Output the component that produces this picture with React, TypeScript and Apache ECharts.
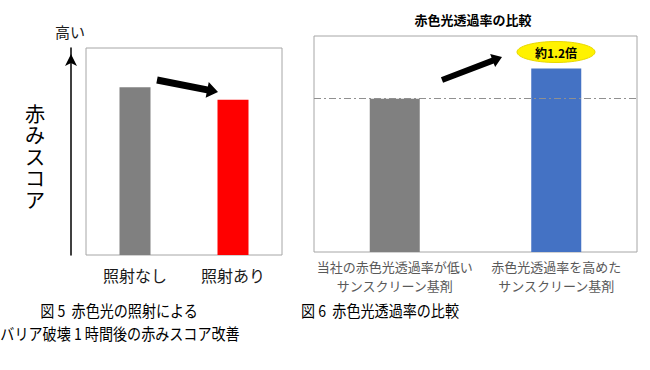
import React, { useEffect, useRef } from "react";
import * as echarts from "echarts";

const fig5Categories = ["照射なし", "照射あり"];
const fig5Values = [81, 75];
const fig5Colors = ["#808080", "#FF0000"];

const fig6Title = "赤色光透過率の比較";
const fig6Categories = ["当社の赤色光透過率が低い\nサンスクリーン基剤", "赤色光透過率を高めた\nサンスクリーン基剤"];
const fig6Values = [71, 85];
const fig6Colors = ["#808080", "#4472C4"];
const fig6Badge = "約1.2倍";

const yAxisName = "高い";
const yAxisTitle = "赤みスコア";
const caption5a = "図 5  赤色光の照射による";
const caption5b = "バリア破壊 1 時間後の赤みスコア改善";
const caption6 = "図 6  赤色光透過率の比較";

const FONT = '"Noto Sans CJK JP", "Noto Sans", sans-serif';

function arrowPoints(x1: number, y1: number, x2: number, y2: number, shaft: number, headW: number, headL: number) {
  const dx = x2 - x1, dy = y2 - y1;
  const len = Math.hypot(dx, dy);
  const ux = dx / len, uy = dy / len;
  const nx = -uy, ny = ux;
  const bx = x2 - ux * headL, by = y2 - uy * headL;
  const s = shaft / 2, h = headW / 2;
  return [
    [x1 + nx * s, y1 + ny * s],
    [bx + nx * s, by + ny * s],
    [bx + nx * h, by + ny * h],
    [x2, y2],
    [bx - nx * h, by - ny * h],
    [bx - nx * s, by - ny * s],
    [x1 - nx * s, y1 - ny * s],
  ];
}

export default function App() {
  const ref = useRef<HTMLDivElement>(null);
  useEffect(() => {
    if (!ref.current) return;
    const chart = echarts.init(ref.current, null, { renderer: "svg" });
    const vScale = 1.34;
    const verticalChars = yAxisTitle.split("").map((ch, i) => ({
      type: "text", x: 0, y: (i - 2) * (21.5 / vScale),
      style: { text: ch, fontSize: 15, fill: "#000", align: "center", verticalAlign: "middle", fontFamily: FONT },
    }));
    const captionStyle = { fontSize: 16, fill: "#000", align: "center", verticalAlign: "middle", fontFamily: FONT };
    const option: any = {
      animation: false,
      backgroundColor: "#ffffff",
      textStyle: { fontFamily: FONT },
      grid: [
        { left: 86, top: 48, width: 196, height: 207, show: true, borderColor: "#a6a6a6", borderWidth: 1, backgroundColor: "transparent" },
        { left: 314, top: 36, width: 323, height: 216, show: true, borderColor: "#a6a6a6", borderWidth: 1, backgroundColor: "transparent" },
      ],
      xAxis: [
        {
          gridIndex: 0, type: "category", data: fig5Categories,
          axisLine: { show: false }, axisTick: { show: false },
          axisLabel: { fontSize: 16, color: "#1a1a1a", margin: 12, fontFamily: FONT },
        },
        {
          gridIndex: 1, type: "category", data: fig6Categories,
          axisLine: { show: false }, axisTick: { show: false },
          axisLabel: { fontSize: 13, color: "#595959", margin: 5, lineHeight: 19, fontFamily: FONT, interval: 0 },
        },
      ],
      yAxis: [
        {
          gridIndex: 0, type: "value", min: 0, max: 100, offset: 15,
          axisLine: { show: true, symbol: ["none", "arrow"], symbolSize: [9, 12], symbolOffset: [0, -6], lineStyle: { color: "#000", width: 1.5 } },
          axisTick: { show: false }, axisLabel: { show: false }, splitLine: { show: false },
        },
        {
          gridIndex: 1, type: "value", min: 0, max: 100,
          axisLine: { show: false }, axisTick: { show: false }, axisLabel: { show: false }, splitLine: { show: false },
        },
      ],
      series: [
        {
          type: "bar", xAxisIndex: 0, yAxisIndex: 0, barWidth: 31,
          data: fig5Values.map((v, i) => ({ value: v, itemStyle: { color: fig5Colors[i] } })),
        },
        {
          type: "bar", xAxisIndex: 1, yAxisIndex: 1, barWidth: 50,
          data: fig6Values.map((v, i) => ({ value: v, itemStyle: { color: fig6Colors[i] } })),
          markLine: {
            silent: true, symbol: "none",
            label: { show: false },
            lineStyle: { color: "#909090", type: [7, 3, 2, 3], width: 1 },
            data: [{ yAxis: fig6Values[0] }],
          },
        },
      ],
      graphic: [
        { type: "group", x: 35, y: 156, scaleX: vScale, scaleY: vScale, children: verticalChars },
        {
          type: "text", x: 70, y: 31,
          style: { text: yAxisName, fontSize: 15, fill: "#1a1a1a", align: "center", verticalAlign: "middle", fontFamily: FONT },
        },
        {
          type: "polygon",
          shape: { points: arrowPoints(157, 80, 218, 92, 7, 16, 11) },
          style: { fill: "#000" },
        },
        {
          type: "polygon",
          shape: { points: arrowPoints(442, 80, 502, 57, 6, 14, 10) },
          style: { fill: "#000" },
        },
        {
          type: "ellipse",
          shape: { cx: 556, cy: 52, rx: 39, ry: 10.5 },
          style: { fill: "#FFF200", stroke: "#e8d800", lineWidth: 1 },
        },
        {
          type: "text", x: 556, y: 52,
          style: { text: fig6Badge, fontSize: 12, fontWeight: "bold", fill: "#000", align: "center", verticalAlign: "middle", fontFamily: FONT },
        },
        {
          type: "text", x: 473, y: 19,
          style: { text: fig6Title, fontSize: 13, fontWeight: "bold", fill: "#000", align: "center", verticalAlign: "middle", fontFamily: FONT },
        },
        { type: "text", x: 119, y: 310, scaleX: 0.88, style: { text: caption5a, ...captionStyle } },
        { type: "text", x: 120, y: 333, scaleX: 0.88, style: { text: caption5b, ...captionStyle } },
        { type: "text", x: 380, y: 310, scaleX: 0.88, style: { text: caption6, ...captionStyle } },
      ],
    };
    chart.setOption(option);
    return () => chart.dispose();
  }, []);
  return <div ref={ref} style={{ position: "absolute", left: 0, top: 0, width: 650, height: 370 }} />;
}
